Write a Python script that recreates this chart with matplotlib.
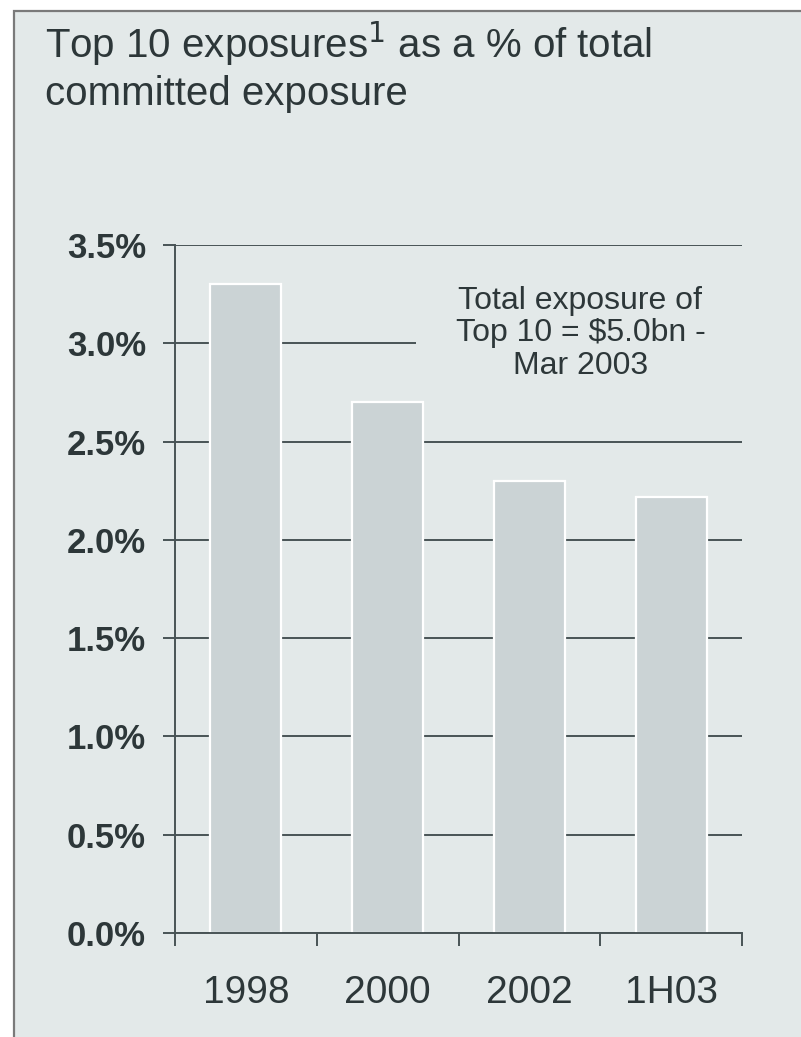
import matplotlib
matplotlib.use("Agg")
import matplotlib.pyplot as plt
from matplotlib.patches import Rectangle
import numpy as np

plt.rcParams['font.family'] = ['Liberation Sans', 'DejaVu Sans']

categories = ["1998", "2000", "2002", "1H03"]
values = [3.30, 2.70, 2.30, 2.22]
yticks = [0.0, 0.5, 1.0, 1.5, 2.0, 2.5, 3.0, 3.5]
ytick_labels = ["0.0%", "0.5%", "1.0%", "1.5%", "2.0%", "2.5%", "3.0%", "3.5%"]

BG = "#e3e9e9"
TEXT = "#2d3739"
BAR = "#cbd3d5"
GRID = "#485355"

W, H = 801, 1037
fig = plt.figure(figsize=(W / 100, H / 100), dpi=100, facecolor="white")

# panel behind the chart
panel = Rectangle((14 / W, -0.01), 1.01 - 14 / W, 1.01 - 11 / H, transform=fig.transFigure,
                  facecolor=BG, edgecolor="#7a7a7a", linewidth=1.6, zorder=-5)
fig.patches.append(panel)

fig.text(45 / W, 1 - 20 / H, "Top 10 exposures$^{1}$ as a % of total\ncommitted exposure",
         fontsize=29, color=TEXT, ha="left", va="top", linespacing=1.22)

ax = fig.add_axes([175 / W, 1 - 933 / H, (742 - 175) / W, (933 - 245) / H])
ax.set_facecolor("none")

x = np.arange(len(categories))
ax.bar(x, values, width=0.5, color=BAR, edgecolor="white", linewidth=1.6, zorder=3)

ax.set_xlim(-0.5, len(categories) - 0.5)
ax.set_ylim(0, 3.5)

ax.set_yticks(yticks)
ax.set_yticklabels(ytick_labels, fontsize=25, fontweight="bold", color=TEXT)
ax.yaxis.grid(True, color=GRID, linewidth=1.4, zorder=1)
ax.set_axisbelow(True)

ax.set_xticks(x)
ax.set_xticklabels(categories, fontsize=28, color=TEXT)
ax.set_xticks(np.arange(-0.5, len(categories)), minor=True)
ax.tick_params(axis="x", which="major", length=0, pad=30)
ax.tick_params(axis="x", which="minor", length=9, width=1.4, color=GRID, direction="out")
ax.tick_params(axis="y", length=9, width=1.4, color=GRID, direction="out", pad=12)

for side in ["top", "right"]:
    ax.spines[side].set_visible(False)
for side in ["left", "bottom"]:
    ax.spines[side].set_color(GRID)
    ax.spines[side].set_linewidth(1.4)
    ax.spines[side].set_zorder(4)

# annotation box covering the grid
ax.add_patch(Rectangle((1.2, 2.62), 3.4, 0.72, facecolor=BG, edgecolor="none", zorder=2))
ax.text(2.36, 3.05, "Total exposure of\nTop 10 = $5.0bn -\nMar 2003", fontsize=23,
        color=TEXT, ha="center", va="center", linespacing=1.1, zorder=5)

fig.savefig("out.png", dpi=100, facecolor="white")
